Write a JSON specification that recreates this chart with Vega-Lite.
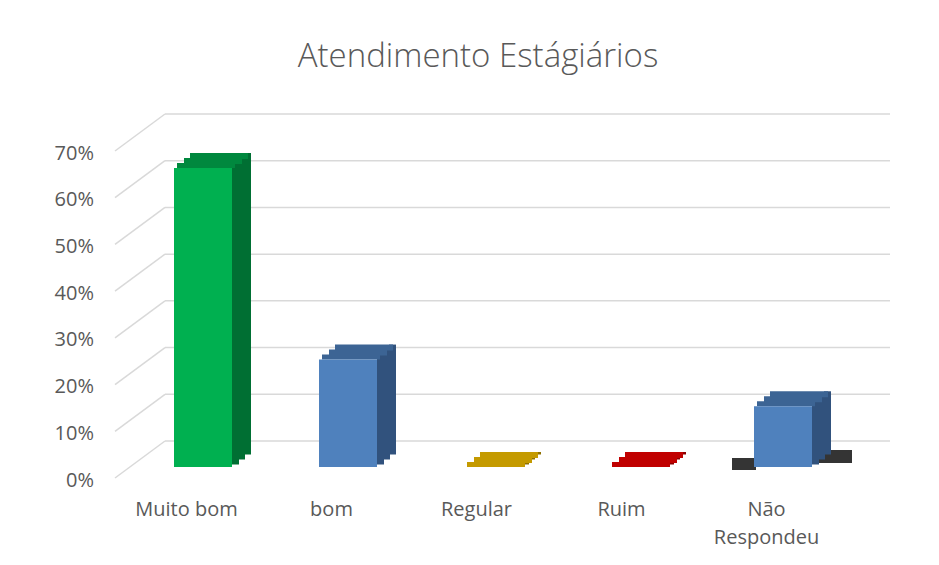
{
  "$schema": "https://vega.github.io/schema/vega-lite/v6.json",
  "width": 725,
  "height": 327,
  "autosize": {"type": "none"},
  "padding": {"left": 130.5, "top": 140, "right": 83.5, "bottom": 98},
  "background": "white",
  "title": {
    "text": "Atendimento Estágiários",
    "font": "Open Sans",
    "fontWeight": 300,
    "fontSize": 33,
    "color": "#595959",
    "anchor": "middle",
    "dx": -15,
    "offset": 39
  },
  "config": {
    "view": {"stroke": null},
    "axis": {
      "labelFont": "Open Sans",
      "labelFontSize": 20,
      "labelColor": "#595959",
      "domain": false,
      "ticks": false,
      "grid": false,
      "title": null
    }
  },
  "datasets": {
    "grid": [
      {"v": 0}, {"v": 0.1}, {"v": 0.2}, {"v": 0.3},
      {"v": 0.4}, {"v": 0.5}, {"v": 0.6}, {"v": 0.7}
    ],
    "resp": [
      {"cat": "Muito bom", "value": 0.64},
      {"cat": "bom", "value": 0.23},
      {"cat": "Regular", "value": 0},
      {"cat": "Ruim", "value": 0},
      {"cat": "Não Respondeu", "value": 0.13}
    ]
  },
  "resolve": {"scale": {"color": "independent"}},
  "layer": [
    {
      "data": {"name": "grid"},
      "mark": {"type": "rule", "color": "#D9D9D9", "strokeWidth": 1.5, "xOffset": -9, "x2Offset": 78, "yOffset": -26},
      "encoding": {
        "x": {"datum": "Muito bom", "bandPosition": 0, "type": "nominal",
              "scale": {"domain": ["Muito bom", "bom", "Regular", "Ruim", "Não Respondeu"], "type": "band", "paddingInner": 0.6, "paddingOuter": 0.3},
              "axis": {"labelOffset": -16.5, "labelPadding": 32, "labelAngle": 0, "labelBaseline": "top", "labelLineHeight": 28,
                       "labelExpr": "datum.value == 'Não Respondeu' ? ['Não', 'Respondeu'] : datum.value"}},
        "x2": {"datum": "Não Respondeu", "bandPosition": 1},
        "y": {"field": "v", "type": "quantitative",
              "scale": {"domain": [0, 0.7], "nice": false, "zero": true},
              "axis": {"format": ".0%", "values": [0, 0.1, 0.2, 0.3, 0.4, 0.5, 0.6, 0.7], "labelPadding": 37, "labelOffset": 13}}
      }
    },
    {
      "data": {"name": "grid"},
      "mark": {"type": "rule", "color": "#D9D9D9", "strokeWidth": 1.5, "xOffset": -59, "x2Offset": -9, "yOffset": 11, "y2Offset": -26},
      "encoding": {
        "x": {"datum": "Muito bom", "bandPosition": 0, "type": "nominal"},
        "x2": {"datum": "Muito bom", "bandPosition": 0},
        "y": {"field": "v", "type": "quantitative"},
        "y2": {"field": "v"}
      }
    },
    {
      "data": {"name": "resp"},
      "transform": [{"filter": "datum.cat == 'Não Respondeu'"}],
      "mark": {"type": "bar", "color": "#111111", "opacity": 0.85, "width": 24, "xOffset": -39, "yOffset": -9, "y2Offset": 3},
      "encoding": {
        "x": {"field": "cat", "type": "nominal"},
        "y": {"datum": 0, "type": "quantitative"},
        "y2": {"datum": 0}
      }
    },
    {
      "data": {"name": "resp"},
      "transform": [{"filter": "datum.cat == 'Não Respondeu'"}],
      "mark": {"type": "bar", "color": "#111111", "opacity": 0.85, "width": 42, "xOffset": 48, "yOffset": -17, "y2Offset": -4},
      "encoding": {
        "x": {"field": "cat", "type": "nominal"},
        "y": {"datum": 0, "type": "quantitative"},
        "y2": {"datum": 0}
      }
    },
    {
      "data": {"name": "resp"},
      "mark": {"type": "bar", "width": 7, "xOffset": 32.5, "yOffset": -5, "y2Offset": -2.5},
      "encoding": {
        "x": {"field": "cat", "type": "nominal"},
        "y": {"field": "value", "type": "quantitative"},
        "y2": {"datum": 0},
        "color": {"field": "cat", "type": "nominal", "legend": null,
                  "scale": {"domain": ["Muito bom", "bom", "Regular", "Ruim", "Não Respondeu"], "range": ["#006F33", "#31527D", "#8F7000", "#8C0000", "#31527D"]}}
      }
    },
    {
      "data": {"name": "resp"},
      "mark": {"type": "bar", "width": 7, "xOffset": 38.5, "yOffset": -10, "y2Offset": -7.5},
      "encoding": {
        "x": {"field": "cat", "type": "nominal"},
        "y": {"field": "value", "type": "quantitative"},
        "y2": {"datum": 0},
        "color": {"field": "cat", "type": "nominal", "legend": null,
                  "scale": {"domain": ["Muito bom", "bom", "Regular", "Ruim", "Não Respondeu"], "range": ["#006F33", "#31527D", "#8F7000", "#8C0000", "#31527D"]}}
      }
    },
    {
      "data": {"name": "resp"},
      "mark": {"type": "bar", "width": 7, "xOffset": 44.5, "yOffset": -15, "y2Offset": -12.5},
      "encoding": {
        "x": {"field": "cat", "type": "nominal"},
        "y": {"field": "value", "type": "quantitative"},
        "y2": {"datum": 0},
        "color": {"field": "cat", "type": "nominal", "legend": null,
                  "scale": {"domain": ["Muito bom", "bom", "Regular", "Ruim", "Não Respondeu"], "range": ["#006F33", "#31527D", "#8F7000", "#8C0000", "#31527D"]}}
      }
    },
    {
      "data": {"name": "resp"},
      "mark": {"type": "bar", "xOffset": 16, "yOffset": -15, "y2Offset": -9},
      "encoding": {
        "x": {"field": "cat", "type": "nominal"},
        "y": {"field": "value", "type": "quantitative"},
        "y2": {"field": "value"},
        "color": {"field": "cat", "type": "nominal", "legend": null,
                  "scale": {"domain": ["Muito bom", "bom", "Regular", "Ruim", "Não Respondeu"], "range": ["#00883E", "#3C6494", "#C49A00", "#C00000", "#3C6494"]}}
      }
    },
    {
      "data": {"name": "resp"},
      "mark": {"type": "bar", "xOffset": 10, "yOffset": -10, "y2Offset": -4},
      "encoding": {
        "x": {"field": "cat", "type": "nominal"},
        "y": {"field": "value", "type": "quantitative"},
        "y2": {"field": "value"},
        "color": {"field": "cat", "type": "nominal", "legend": null,
                  "scale": {"domain": ["Muito bom", "bom", "Regular", "Ruim", "Não Respondeu"], "range": ["#00883E", "#3C6494", "#C49A00", "#C00000", "#3C6494"]}}
      }
    },
    {
      "data": {"name": "resp"},
      "mark": {"type": "bar", "xOffset": 3, "yOffset": -5, "y2Offset": 0},
      "encoding": {
        "x": {"field": "cat", "type": "nominal"},
        "y": {"field": "value", "type": "quantitative"},
        "y2": {"field": "value"},
        "color": {"field": "cat", "type": "nominal", "legend": null,
                  "scale": {"domain": ["Muito bom", "bom", "Regular", "Ruim", "Não Respondeu"], "range": ["#00883E", "#3C6494", "#C49A00", "#C00000", "#3C6494"]}}
      }
    },
    {
      "data": {"name": "resp"},
      "mark": {"type": "bar"},
      "encoding": {
        "x": {"field": "cat", "type": "nominal"},
        "y": {"field": "value", "type": "quantitative"},
        "y2": {"datum": 0},
        "color": {"field": "cat", "type": "nominal", "legend": null,
                  "scale": {"domain": ["Muito bom", "bom", "Regular", "Ruim", "Não Respondeu"], "range": ["#00B050", "#4F81BD", "#FFC000", "#FF0000", "#4F81BD"]}}
      }
    }
  ]
}
